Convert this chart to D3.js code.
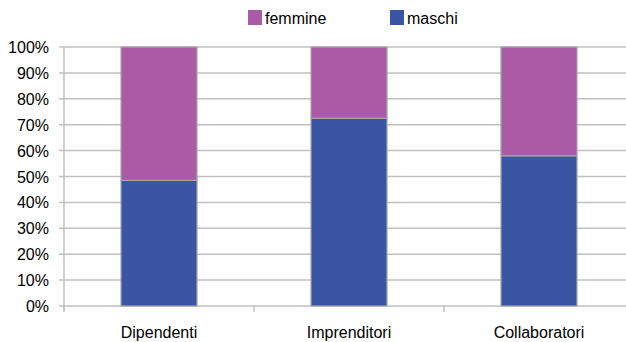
<!DOCTYPE html>
<html>
<head>
<meta charset="utf-8">
<script src="https://cdn.jsdelivr.net/npm/d3@7"></script>
<style>
  body { margin: 0; background: #fff; }
  svg { font-family: "Liberation Sans", Arial, sans-serif; }
</style>
</head>
<body>
<div id="chart"></div>
<script>
var categories = ["Dipendenti", "Imprenditori", "Collaboratori"],
    maschi = [48.5, 72.5, 58],
    femmine = [51.5, 27.5, 42],
    series_names = ["femmine", "maschi"],
    y_ticks = [0, 10, 20, 30, 40, 50, 60, 70, 80, 90, 100];

var width = 626,
    height = 342;

var colors = { maschi: "#3a55a4", femmine: "#ab5aa5" };

var svg = d3.select("#chart").append("svg")
    .attr("width", width)
    .attr("height", height);

var x = d3.scaleBand()
    .domain(categories)
    .range([64, 634])
    .paddingInner(0.6)
    .paddingOuter(0.3);

var y = d3.scaleLinear()
    .domain([0, 100])
    .range([306, 47]);

// gridlines
svg.append("g")
    .selectAll("line")
    .data(y_ticks)
    .enter().append("line")
    .attr("x1", 59)
    .attr("x2", width)
    .attr("y1", d => y(d))
    .attr("y2", d => y(d))
    .attr("stroke", "#c0c0c0")
    .attr("stroke-width", 1.5);

// y axis line
svg.append("line")
    .attr("x1", 64).attr("x2", 64)
    .attr("y1", y(100)).attr("y2", y(0) + 5)
    .attr("stroke", "#c0c0c0")
    .attr("stroke-width", 1.5);

// x ticks between categories
var sep = [0, 1, 2].map(i => 64 + x.step() * i);
svg.append("g")
    .selectAll("line")
    .data(sep)
    .enter().append("line")
    .attr("x1", d => d).attr("x2", d => d)
    .attr("y1", y(0)).attr("y2", y(0) + 6)
    .attr("stroke", "#c0c0c0")
    .attr("stroke-width", 1.5);

// y labels
svg.append("g")
    .selectAll("text")
    .data(y_ticks)
    .enter().append("text")
    .attr("x", 49)
    .attr("y", d => y(d) + 6)
    .attr("text-anchor", "end")
    .attr("font-size", "16px")
    .attr("fill", "#000")
    .text(d => d + "%");

// stacked bars
var rows = categories.map((c, i) => ({ cat: c, maschi: maschi[i], femmine: femmine[i] }));
var stack = d3.stack().keys(["maschi", "femmine"])(rows);

svg.append("g")
    .selectAll("g")
    .data(stack)
    .enter().append("g")
    .attr("fill", d => colors[d.key])
    .selectAll("rect")
    .data(d => d)
    .enter().append("rect")
    .attr("x", d => x(d.data.cat))
    .attr("y", d => y(d[1]))
    .attr("width", x.bandwidth())
    .attr("height", d => y(d[0]) - y(d[1]))
    .attr("stroke", "#a6a6a6")
    .attr("stroke-width", 1.2);

// category labels
svg.append("g")
    .selectAll("text")
    .data(categories)
    .enter().append("text")
    .attr("x", d => x(d) + x.bandwidth() / 2)
    .attr("y", 338)
    .attr("text-anchor", "middle")
    .attr("font-size", "16px")
    .attr("fill", "#000")
    .text(d => d);

// legend
var legend_x = [248, 390];
var legend = svg.append("g")
    .selectAll("g")
    .data(series_names)
    .enter().append("g")
    .attr("transform", (d, i) => "translate(" + legend_x[i] + ",10)");

legend.append("rect")
    .attr("width", 14)
    .attr("height", 15)
    .attr("fill", d => colors[d]);

legend.append("text")
    .attr("x", 17)
    .attr("y", 14)
    .attr("font-size", "16px")
    .attr("fill", "#000")
    .text(d => d);
</script>
</body>
</html>
